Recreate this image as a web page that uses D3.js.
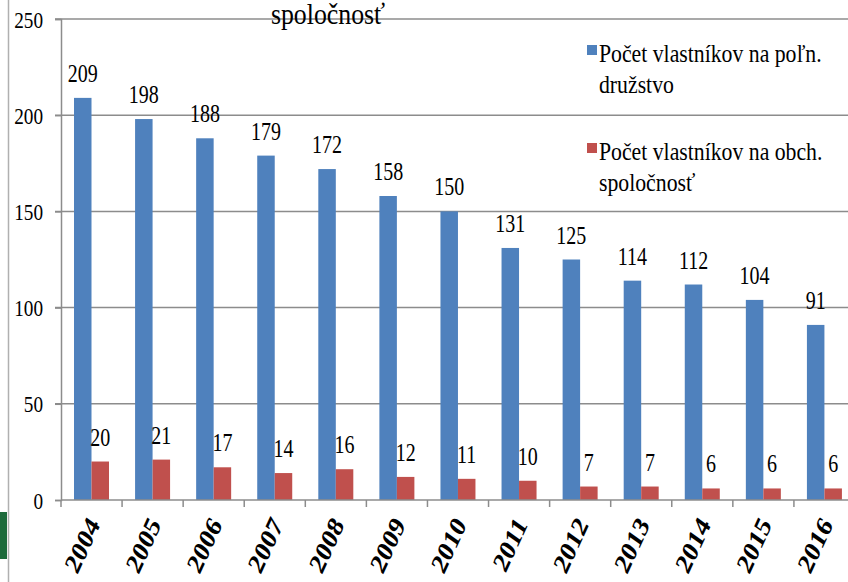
<!DOCTYPE html>
<html>
<head>
<meta charset="utf-8">
<script src="https://cdn.jsdelivr.net/npm/d3@7"></script>
<style>
  body { margin: 0; background: #fff; }
</style>
</head>
<body>
<div id="chart-area"></div>
<script>
// chart data
let years = ["2004","2005","2006","2007","2008","2009","2010","2011","2012","2013","2014","2015","2016"];
let druzstvo = [209,198,188,179,172,158,150,131,125,114,112,104,91];
let spolocnost = [20,21,17,14,16,12,11,10,7,7,6,6,6];
let yTicks = [0,50,100,150,200,250];
let seriesNames = ["Počet  vlastníkov na poľn.|družstvo", "Počet vlastníkov  na obch.|spoločnosť"];
let seriesColors = ["#4f81bd", "#c0504d"];

var width = 848,
	height = 582;
let serif = '"Liberation Serif"';

let svg = d3.select('#chart-area').append('svg')
	.attr('width', width)
	.attr('height', height);

// left frame + green bit
svg.append('line')
	.attr('x1', 8.5).attr('x2', 8.5).attr('y1', 0).attr('y2', height)
	.attr('stroke', '#b0b0b0').attr('stroke-width', 1.5);
svg.append('rect')
	.attr('x', 0).attr('y', 512).attr('width', 7).attr('height', 47)
	.attr('fill', '#1d6a3b');

let x = d3.scaleBand()
	.domain(years)
	.range([61, 855]);

let x1 = d3.scaleBand()
	.domain([0, 1])
	.range([13, 48]);

let y = d3.scaleLinear()
	.domain([0, 250])
	.range([500, 19]);

// gridlines
svg.append('g')
	.selectAll('line')
	.data(yTicks.filter(d => d > 0))
	.enter()
	.append('line')
	.attr('x1', 55).attr('x2', width)
	.attr('y1', d => y(d)).attr('y2', d => y(d))
	.attr('stroke', '#8c8c8c').attr('stroke-width', 1.5);

// title remnant at top
svg.append('text')
	.attr('transform', 'translate(328,24) scale(0.86,1)')
	.attr('text-anchor', 'middle')
	.style('font-family', serif)
	.style('font-size', '30px')
	.text('spoločnosť');

// bars
let groups = svg.append('g')
	.selectAll('g')
	.data(years)
	.enter()
	.append('g')
	.attr('transform', d => 'translate(' + x(d) + ',0)');

let rows = years.map((yr, i) => [druzstvo[i], spolocnost[i]]);

groups.selectAll('rect')
	.data((d, i) => rows[i])
	.enter()
	.append('rect')
	.attr('x', (d, j) => x1(j))
	.attr('width', x1.bandwidth())
	.attr('y', d => y(d))
	.attr('height', d => y(0) - y(d))
	.attr('fill', (d, j) => seriesColors[j]);

groups.selectAll('text')
	.data((d, i) => rows[i])
	.enter()
	.append('text')
	.attr('transform', (d, j) => 'translate(' + (x1(j) + x1.bandwidth() / 2) + ',' + (y(d) - 16) + ') scale(0.8,1)')
	.attr('text-anchor', 'middle')
	.style('font-family', serif)
	.style('font-size', '25px')
	.text(d => d);

// y axis
let yaxis = d3.axisLeft(y)
	.tickValues(yTicks)
	.tickSize(6)
	.tickFormat(d => d);

let gy = svg.append('g')
	.attr('transform', 'translate(61,0)')
	.call(yaxis);
gy.select('.domain').attr('stroke', '#8c8c8c').attr('stroke-width', 1.5);
gy.selectAll('.tick line').attr('stroke', '#8c8c8c').attr('stroke-width', 1.5);
gy.selectAll('.tick text')
	.attr('x', 0).attr('dy', 0)
	.attr('transform', 'translate(-18,8) scale(0.8,1)')
	.attr('text-anchor', 'end')
	.attr('fill', '#000')
	.style('font-family', serif)
	.style('font-size', '24px');

// x axis
let gx = svg.append('g')
	.attr('transform', 'translate(0,500)');
gx.append('line')
	.attr('x1', 61).attr('x2', width)
	.attr('stroke', '#8c8c8c').attr('stroke-width', 1.5);
gx.selectAll('.tk')
	.data(years)
	.enter()
	.append('line')
	.attr('class', 'tk')
	.attr('x1', d => x(d)).attr('x2', d => x(d))
	.attr('y1', 0).attr('y2', 7)
	.attr('stroke', '#8c8c8c').attr('stroke-width', 1.5);
gx.selectAll('.lbl')
	.data(years)
	.enter()
	.append('text')
	.attr('class', 'lbl')
	.attr('transform', d => 'translate(' + (x(d) + x.bandwidth() / 2 + 9) + ',25) scale(0.8,1) rotate(-60)')
	.attr('text-anchor', 'end')
	.style('font-family', serif)
	.style('font-size', '29px')
	.style('font-weight', 'bold')
	.text(d => d);

// legend
let legend = svg.append('g')
	.selectAll('g')
	.data(seriesNames)
	.enter()
	.append('g')
	.attr('transform', (d, i) => 'translate(587,' + (45 + i * 98) + ')');

legend.append('rect')
	.attr('width', 10).attr('height', 10)
	.attr('fill', (d, i) => seriesColors[i]);

legend.each(function(d) {
	let lines = d.split('|');
	d3.select(this).selectAll('text')
		.data(lines)
		.enter()
		.append('text')
		.attr('transform', (l, k) => 'translate(12,' + (17 + k * 31) + ') scale(0.87,1)')
		.style('font-family', serif)
		.style('font-size', '25px')
		.text(l => l);
});
</script>
</body>
</html>
